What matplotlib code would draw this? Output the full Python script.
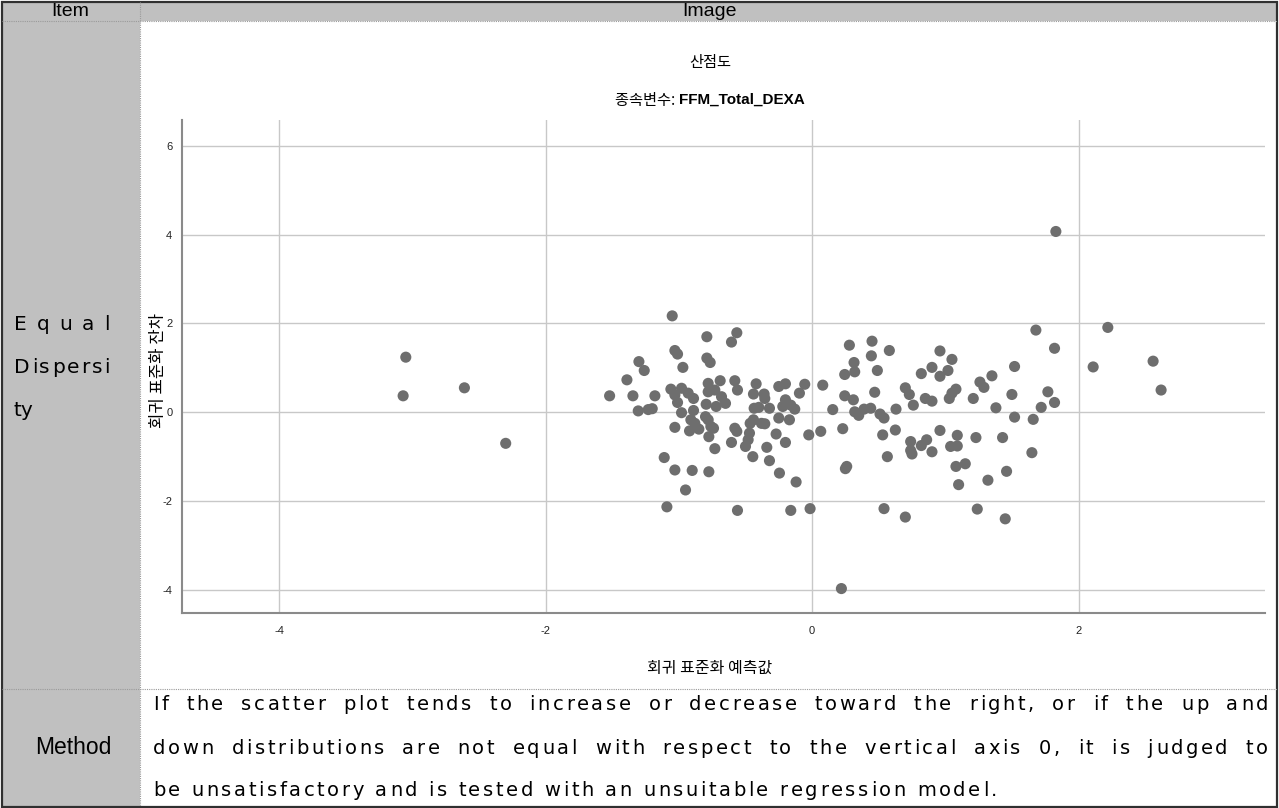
import matplotlib
matplotlib.use("Agg")
import matplotlib.pyplot as plt
from matplotlib.patches import Rectangle
from matplotlib.lines import Line2D
from matplotlib.font_manager import FontProperties

plt.rcParams["axes.unicode_minus"] = False

W, H = 1279, 808

# standardized predicted value (x) / standardized residual (y)
pred_x = [-3.05, -3.07, -2.61, -2.30,
          -1.05, -0.79, -0.565, -0.605, -1.03, -1.01, -1.30, -1.26, -0.97, -0.79,
          -0.765, -1.39, -1.52, -1.345, -1.18, -1.305, -1.23, -1.20, -1.06, -0.98,
          -1.03, -1.01, -0.93, -0.89, -0.98, -0.89, -0.91, -0.88, -0.85, -0.92,
          -1.03, -0.80, -0.78, -0.76, -0.74, -0.775, -0.73, -0.795, -0.78, -0.78,
          -0.73, -0.69, -0.72, -0.68, -0.65, -0.58, -0.56, -0.58, -0.565, -0.605,
          -0.50, -0.48, -0.47, -0.465, -0.44, -0.445, -0.42, -0.44, -0.435, -0.40,
          -0.36, -0.355, -0.32, -0.38, -0.355, -0.34, -0.32, -0.27, -0.25, -0.25,
          -0.20, -0.20, -0.22, -0.16, -0.13, -0.17, -0.20, -0.245, -0.12, -0.095,
          -0.055, -0.025, 0.08, 0.065, 0.155, 0.23, 0.245, 0.31, 0.245, 0.315,
          0.32, 0.28, 0.45, 0.445, 0.58, 0.49, 0.47, 0.32, 0.35, 0.39,
          0.44, 0.51, 0.54, 0.53, 0.625, 0.63, 0.565, 0.25, 0.26, -1.09,
          -0.95, -1.11, -1.03, -0.90, -0.775, -0.56, -0.16, -0.015, 0.54, 0.70,
          1.68, 1.82, 2.22, 2.11, 2.56, 2.62, 0.96, 1.05, 0.90, 0.82,
          0.96, 1.02, 1.52, 1.35, 1.26, 1.29, 0.70, 0.73, 0.76, 0.85,
          0.90, 1.03, 1.05, 1.08, 1.21, 1.38, 1.50, 1.77, 1.82, 1.72,
          1.52, 1.66, 0.96, 0.74, 0.82, 0.86, 0.74, 0.75, 0.90, 1.04,
          1.09, 1.09, 1.23, 1.43, 1.65, 1.08, 1.15, 1.10, 1.32, 1.46,
          1.24, 1.45, 0.22, 1.83]
resid_y = [1.24, 0.37, 0.55, -0.70,
           2.17, 1.70, 1.79, 1.58, 1.39, 1.31, 1.14, 0.94, 1.01, 1.22,
           1.12, 0.73, 0.37, 0.37, 0.37, 0.03, 0.06, 0.08, 0.52, 0.54,
           0.39, 0.22, 0.43, 0.31, -0.01, 0.04, -0.17, -0.25, -0.38, -0.42,
           -0.34, -0.10, -0.17, -0.32, -0.36, -0.55, -0.82, 0.18, 0.65, 0.46,
           0.50, 0.71, 0.13, 0.35, 0.20, 0.71, 0.50, -0.36, -0.43, -0.68,
           -0.77, -0.62, -0.47, -0.25, -0.17, -1.00, 0.64, 0.41, 0.09, 0.11,
           0.41, 0.31, 0.09, -0.25, -0.26, -0.79, -1.09, -0.49, -0.13, 0.58,
           0.64, 0.28, 0.13, 0.16, 0.07, -0.17, -0.68, -1.37, -1.57, 0.43,
           0.63, -0.51, 0.61, -0.43, 0.06, -0.37, 0.37, 0.28, 0.85, 1.12,
           0.91, 1.51, 1.60, 1.27, 1.39, 0.94, 0.45, 0.01, -0.07, 0.07,
           0.09, -0.04, -0.13, -0.51, -0.40, 0.07, -1.00, -1.27, -1.22, -2.13,
           -1.75, -1.02, -1.30, -1.31, -1.34, -2.21, -2.21, -2.17, -2.17, -2.36,
           1.85, 1.44, 1.91, 1.02, 1.15, 0.50, 1.38, 1.19, 1.01, 0.87,
           0.81, 0.94, 1.03, 0.82, 0.68, 0.56, 0.55, 0.40, 0.16, 0.31,
           0.25, 0.31, 0.43, 0.52, 0.31, 0.10, 0.40, 0.46, 0.22, 0.11,
           -0.11, -0.16, -0.41, -0.66, -0.75, -0.62, -0.86, -0.94, -0.89, -0.77,
           -0.52, -0.76, -0.57, -0.57, -0.91, -1.22, -1.16, -1.63, -1.53, -1.33,
           -2.18, -2.40, -3.97, 4.07]

x_ticks = [-4, -2, 0, 2]
y_ticks = [-4, -2, 0, 2, 4, 6]

chart_title = "산점도"
chart_sub = "종속변수: "
chart_dep = "FFM_Total_DEXA"
x_label = "회귀 표준화 예측값"
y_label = "회귀 표준화 잔차"
header = ["Item", "Image"]
row1_label = ["E q u a l", "Dispersi", "ty"]
row2_label = "Method"
method_lines = [
    "If the scatter plot tends to increase or decrease toward the right, or if the up and",
    "down distributions are not equal with respect to the vertical axis 0, it is judged to",
    "be unsatisfactory and is tested with an unsuitable regression model.",
]

KR = ["Noto Sans CJK KR", "DejaVu Sans"]
NARROW = ["Liberation Sans Narrow", "Liberation Sans", "DejaVu Sans"]
GRAY = "#c0c0c0"


def fx(x):
    return x / W


def fy(y):
    return 1 - y / H


fig = plt.figure(figsize=(W / 100, H / 100), dpi=100)
fig.patch.set_facecolor("white")

# table background
fig.add_artist(Rectangle((fx(2), fy(21)), fx(1275), 19 / H, transform=fig.transFigure,
                         facecolor=GRAY, edgecolor="none"))
fig.add_artist(Rectangle((fx(2), fy(806)), fx(138), 786 / H, transform=fig.transFigure,
                         facecolor=GRAY, edgecolor="none"))
for y in [21, 689]:
    fig.add_artist(Line2D([fx(2), fx(1277)], [fy(y), fy(y)], transform=fig.transFigure,
                          color="#9a9a9a", lw=0.8, ls=(0, (1, 1))))
fig.add_artist(Line2D([fx(140), fx(140)], [fy(2), fy(806)], transform=fig.transFigure,
                      color="#9a9a9a", lw=0.8, ls=(0, (1, 1))))
fig.add_artist(Rectangle((fx(1.5), fy(806.5)), fx(1275.5), 805 / H, transform=fig.transFigure,
                         facecolor="none", edgecolor="#303030", lw=1.6))

fig.text(fx(70), fy(11), header[0], ha="center", va="center", fontsize=14, family=NARROW)
fig.text(fx(710), fy(11), header[1], ha="center", va="center", fontsize=14, family=NARROW)
fig.text(fx(73), fy(748), row2_label, ha="center", va="center", fontsize=16.5, family=NARROW)

renderer = fig.canvas.get_renderer()


def spread(line, y, x0, x1=None, letter=0.0, size=14, family="DejaVu Sans"):
    # char-by-char layout: fixed letter gap, leftover width goes to word spaces
    prop = FontProperties(family=family, size=size)
    widths = [renderer.get_text_width_height_descent(c, prop, ismath=False)[0]
              for c in line]
    word_gap = 0.0
    if x1 is not None:
        n_sp = max(line.count(" "), 1)
        word_gap = (x1 - x0 - sum(widths) - letter * (len(line) - 1)) / n_sp
    x = x0
    for c, w in zip(line, widths):
        if c != " ":
            fig.text(fx(x), fy(y), c, va="center", fontproperties=prop)
        x += w + letter + (word_gap if c == " " else 0)


def stretch(word, y, x0, x1, size=14.5, family="DejaVu Sans"):
    prop = FontProperties(family=family, size=size)
    widths = [renderer.get_text_width_height_descent(c, prop, ismath=False)[0]
              for c in word]
    gap = (x1 - x0 - sum(widths)) / (len(word) - 1)
    x = x0
    for c, w in zip(word, widths):
        if c != " ":
            fig.text(fx(x), fy(y), c, va="center", fontproperties=prop)
        x += w + gap


stretch(row1_label[0], 325, 14, 110)
stretch(row1_label[1], 368, 14, 110)
fig.text(fx(14), fy(410), row1_label[2], va="center", fontsize=14.5, family="DejaVu Sans")

for i, line in enumerate(method_lines):
    y = 705 + 43 * i
    if i < len(method_lines) - 1:
        spread(line, y, 153, 1268, letter=2.6)
    else:
        spread(line, y, 153, letter=2.6)

# chart titles
fig.text(fx(710), fy(62), chart_title, ha="center", va="center", fontsize=11, family=KR)
t1 = fig.text(0, fy(100), chart_sub, va="center", fontsize=11, family=KR)
t2 = fig.text(0, fy(100), chart_dep, va="center", fontsize=11, family="Liberation Sans",
              weight="bold")
w1 = t1.get_window_extent(renderer).width
w2 = t2.get_window_extent(renderer).width
t1.set_x(fx(710 - (w1 + w2) / 2))
t2.set_x(fx(710 - (w1 + w2) / 2 + w1))

# scatter plot
left, right, top, bottom = 182, 1265, 120, 613
ax = fig.add_axes([fx(left), fy(bottom), fx(right - left), (bottom - top) / H])
ax.scatter(pred_x, resid_y, s=64, color="#6e6e6e", edgecolors="none", zorder=3)
ax.set_xlim(-4.73, 3.40)
ax.set_ylim(-4.52, 6.58)
ax.set_xticks(x_ticks)
ax.set_yticks(y_ticks)
ax.grid(True, color="#c8c8c8", lw=1.0)
ax.set_axisbelow(True)
for s in ["top", "right"]:
    ax.spines[s].set_visible(False)
for s in ["left", "bottom"]:
    ax.spines[s].set_color("#8a8a8a")
    ax.spines[s].set_linewidth(1.5)
ax.tick_params(length=0, labelsize=8, pad=9, colors="#222222")
ax.tick_params(axis="y", pad=7)
for lab in ax.get_xticklabels() + ax.get_yticklabels():
    lab.set_family("Liberation Sans")
ax.set_xlabel(x_label, fontsize=11.5, family=KR)
ax.set_ylabel(y_label, fontsize=12, family=KR)
ax.xaxis.set_label_coords((710 - left) / (right - left), -(668 - bottom) / (bottom - top))
ax.yaxis.set_label_coords(-(182 - 158) / (right - left), (bottom - 370) / (bottom - top))
ax.xaxis.label.set_va("center")
ax.yaxis.label.set_va("center")

fig.savefig("out.png", dpi=100)
